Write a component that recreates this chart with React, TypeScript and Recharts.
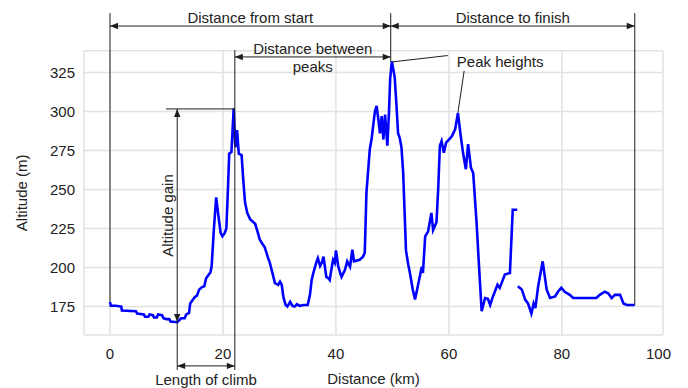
import React from 'react';
import { LineChart, Line, XAxis, YAxis, CartesianGrid, ReferenceLine } from 'recharts';

// elevation profile
const DISTANCE_KM = [
  0.0, 0.15, 1.0, 2.0, 2.1, 4.6, 4.8, 6.0, 6.2, 6.8, 7.0, 7.6, 7.8, 8.3, 8.5, 9.2, 9.5, 10.0, 10.5, 10.7,
  11.9, 12.2, 12.6, 13.2, 13.5, 14.0, 14.2, 14.6, 15.0, 15.4, 15.8, 16.3, 16.7, 17.0, 17.4, 17.8, 18.0, 18.4, 18.8, 19.2,
  19.6, 19.9, 20.3, 20.6, 20.9, 21.1, 21.5, 21.9, 22.2, 22.5, 22.8, 23.3, 23.6, 23.9, 24.3, 24.8, 25.7, 26.2, 26.5, 27.0,
  27.4, 28.0, 28.3, 28.8, 29.2, 29.8, 30.1, 30.4, 30.7, 31.1, 31.4, 31.9, 32.3, 32.7, 33.1, 33.6, 34.3, 35.0, 35.4, 35.7,
  36.0, 36.5, 36.8, 37.2, 37.5, 37.8, 38.3, 38.7, 38.9, 39.3, 39.5, 39.8, 40.0, 40.4, 40.8, 41.0, 41.6, 42.0, 42.5, 42.9,
  43.2, 44.2, 44.8, 45.1, 45.4, 45.7, 46.0, 46.3, 46.6, 46.9, 47.2, 47.5, 47.8, 48.1, 48.4, 48.7, 49.1, 49.4, 49.6, 49.9,
  50.2, 50.4, 50.7, 51.0, 51.3, 51.6, 51.9, 52.4, 52.8, 53.1, 53.6, 54.0, 54.6, 55.2, 55.4, 55.8, 56.3, 56.9, 57.2, 57.8,
  58.1, 58.4, 58.7, 59.1, 59.5, 60.0, 60.5, 61.1, 61.6, 62.1, 62.5, 63.0, 63.4, 63.9, 64.3, 64.9, 65.4, 65.8, 66.4, 66.9,
  67.3, 67.8, 68.6, 69.0, 69.9, 70.8, 71.3, 72.1, 72.15, 72.2, 72.9, 73.5, 74.0, 74.6, 75.0, 75.3, 75.8, 76.6, 77.3, 77.9,
  78.8, 79.3, 79.9, 80.5, 81.4, 82.0, 86.1, 86.7, 87.6, 88.2, 88.8, 89.4, 90.3, 90.9, 91.5, 92.9,
];
const ALTITUDE_M: (number | null)[] = [
  178, 175.5, 175.5, 175, 172.5, 172, 170.5, 170, 168.5, 168.5, 170, 169.5, 168, 168, 170, 169.5, 167.5, 167, 167, 165.5,
  165, 166, 167.5, 167.5, 170, 171, 177, 179, 181, 182, 186, 187.5, 188, 193, 195, 197, 201, 225, 245, 233,
  222, 220, 222, 225, 252, 273, 274, 302, 277, 288, 273, 272, 256, 242, 235, 231, 228, 222, 218, 215,
  213, 206, 203, 196, 190, 189, 191, 189, 181, 176, 175, 178, 175.5, 175, 176.5, 175.5, 176, 176, 182.5, 192,
  196.5, 203, 206, 201, 203, 207, 194, 193, 192, 201, 205, 203, 211, 201, 196, 194, 198.5, 204, 200.5, 211.5,
  204, 205, 207, 209.5, 248, 262, 276, 282, 291, 300, 303.5, 295, 286, 297, 282, 298, 278, 300, 321, 332,
  326, 322, 305, 286, 283, 277, 261, 211, 202, 196.5, 186, 179.5, 190, 200.5, 196.5, 220, 223, 235, 224, 229,
  250, 278, 281, 273.5, 280, 282, 284, 288.5, 299, 284, 273.5, 263, 279, 264, 260.5, 228.5, 196.5, 172, 180.5, 180,
  176, 181.5, 189, 187, 195.5, 196.5, 237, 237, null, 188, 186, 179.5, 177, 170.5, 177, 174, 188, 204, 186, 180.5,
  181.5, 184.5, 187, 184.5, 182.5, 180.5, 180.5, 182.5, 184.5, 183.5, 180.5, 182.5, 182.5, 177, 176, 176,
];
const X_TICKS = [0, 20, 40, 60, 80, 100];
const Y_TICKS = [175, 200, 225, 250, 275, 300, 325];
const X_DOMAIN: [number, number] = [-4.6, 97.9];
const Y_DOMAIN: [number, number] = [156.8, 338.9];

// annotation anchors (km, m)
const START_KM = 0;
const CLIMB_KM = 11.9;
const PEAK1_KM = 22.1;
const PEAK2_KM = 49.7;
const PEAK3_KM = 61.6;
const FINISH_KM = 92.9;
const START_ALT = 178;
const PEAK1_ALT = 301.6;
const PEAK2_ALT = 331.7;
const PEAK3_ALT = 299.3;
const LOW_ALT = 165.1;
const FINISH_ALT = 176;

const W = 680;
const H = 380;
const MARGIN = { top: 42.7, right: 25, bottom: 23, left: 4 };
const Y_AXIS_W = 72;
const X_AXIS_H = 30;
const PLOT = {
  left: MARGIN.left + Y_AXIS_W,
  top: MARGIN.top,
  width: W - MARGIN.left - Y_AXIS_W - MARGIN.right,
  height: H - MARGIN.top - MARGIN.bottom - X_AXIS_H,
};
const FONT = '"Liberation Sans", Arial, sans-serif';
const INK = '#1e1e1e';
const TEXT = '#222';

const data = DISTANCE_KM.map((km, i) => ({ km, alt: ALTITUDE_M[i] }));

const xPx = (v: number) => PLOT.left + ((v - X_DOMAIN[0]) / (X_DOMAIN[1] - X_DOMAIN[0])) * PLOT.width;
const yPx = (v: number) => PLOT.top + ((Y_DOMAIN[1] - v) / (Y_DOMAIN[1] - Y_DOMAIN[0])) * PLOT.height;

const gridX = [PLOT.left, ...X_TICKS.filter((t) => t < X_DOMAIN[1]).map(xPx), PLOT.left + PLOT.width];
const gridY = [PLOT.top, ...Y_TICKS.map(yPx), PLOT.top + PLOT.height];

const Head = ({ x, y, dx, dy }: { x: number; y: number; dx: number; dy: number }) => {
  const len = 8;
  const hw = 3.2;
  const bx = x - dx * len;
  const by = y - dy * len;
  return (
    <polygon
      points={`${x},${y} ${bx - dy * hw},${by + dx * hw} ${bx + dy * hw},${by - dx * hw}`}
      fill={INK}
    />
  );
};

type Label = { text: string; dx?: number; dy?: number; rotate?: boolean; anchor?: 'start' | 'middle' | 'end'; at?: 'mid' | 'end' };

// builds a ReferenceLine shape: plain or double-headed line plus text
const segShape = (heads: boolean, labels: Label[] = []) => (p: any) => {
  const { x1, y1, x2, y2 } = p;
  const len = Math.hypot(x2 - x1, y2 - y1) || 1;
  const ux = (x2 - x1) / len;
  const uy = (y2 - y1) / len;
  return (
    <g>
      <line x1={x1} y1={y1} x2={x2} y2={y2} stroke={INK} strokeWidth={1} />
      {heads && <Head x={x1} y={y1} dx={-ux} dy={-uy} />}
      {heads && <Head x={x2} y={y2} dx={ux} dy={uy} />}
      {labels.map((l, i) => {
        const bx = l.at === 'end' ? x2 : (x1 + x2) / 2;
        const by = l.at === 'end' ? y2 : (y1 + y2) / 2;
        const tx = bx + (l.dx || 0);
        const ty = by + (l.dy || 0);
        return (
          <text
            key={i}
            x={tx}
            y={ty}
            textAnchor={l.anchor || 'middle'}
            dominantBaseline="central"
            transform={l.rotate ? `rotate(-90, ${tx}, ${ty})` : undefined}
            fontFamily={FONT}
            fontSize={15}
            fill={TEXT}
          >
            {l.text}
          </text>
        );
      })}
    </g>
  );
};

const XTick = (p: any) => {
  const right = PLOT.left + PLOT.width;
  const over = p.x > right;
  return (
    <text
      x={over ? right + 8 : p.x}
      y={p.y}
      dy="0.71em"
      textAnchor={over ? 'end' : 'middle'}
      fontFamily={FONT}
      fontSize={15}
      fill={TEXT}
    >
      {p.payload.value}
    </text>
  );
};

const YTick = (p: any) => (
  <text x={p.x} y={p.y} dy="0.355em" textAnchor="end" fontFamily={FONT} fontSize={15} fill={TEXT}>
    {p.payload.value}
  </text>
);

const YLabel = (p: any) => {
  const cx = p.viewBox.x + 10;
  const cy = PLOT.top + PLOT.height / 2;
  return (
    <text
      x={cx}
      y={cy}
      transform={`rotate(-90, ${cx}, ${cy})`}
      textAnchor="middle"
      dominantBaseline="central"
      fontFamily={FONT}
      fontSize={15}
      fill={TEXT}
    >
      Altitude (m)
    </text>
  );
};

const TOP_LINE = 363;
const TOP_ARROW = 354.7;
const MID_ARROW = 334.9;
const MID_LINE = 339.3;
const LOW_ARROW = 137;
const LOW_LINE = 134.4;

export default function App() {
  return (
    <div style={{ width: W, height: H }}>
      <LineChart width={W} height={H} data={data} margin={MARGIN}>
        <CartesianGrid
          stroke="#e2e2e2"
          strokeWidth={1.5}
          horizontalPoints={gridY}
          verticalPoints={gridX}
        />
        <XAxis
          dataKey="km"
          type="number"
          domain={X_DOMAIN}
          ticks={X_TICKS}
          allowDataOverflow
          interval={0}
          height={X_AXIS_H}
          axisLine={false}
          tickLine={false}
          tickSize={0}
          tickMargin={13}
          tick={<XTick />}
          label={{ value: 'Distance (km)', position: 'bottom', offset: 8, fontFamily: FONT, fontSize: 15, fill: TEXT }}
        />
        <YAxis
          type="number"
          domain={Y_DOMAIN}
          ticks={Y_TICKS}
          allowDataOverflow
          interval={0}
          width={Y_AXIS_W}
          axisLine={false}
          tickLine={false}
          tickSize={0}
          tickMargin={9}
          tick={<YTick />}
          label={{ content: <YLabel /> }}
        />
        <Line
          type="linear"
          dataKey="alt"
          stroke="#0000ff"
          strokeWidth={2.6}
          dot={false}
          connectNulls={false}
          isAnimationActive={false}
        />

        {/* guide lines */}
        <ReferenceLine ifOverflow="visible" segment={[{ x: START_KM, y: TOP_LINE }, { x: START_KM, y: START_ALT }]} shape={segShape(false)} />
        <ReferenceLine ifOverflow="visible" segment={[{ x: PEAK2_KM, y: TOP_LINE }, { x: PEAK2_KM, y: PEAK2_ALT }]} shape={segShape(false)} />
        <ReferenceLine ifOverflow="visible" segment={[{ x: FINISH_KM, y: TOP_LINE }, { x: FINISH_KM, y: FINISH_ALT }]} shape={segShape(false)} />
        <ReferenceLine ifOverflow="visible" segment={[{ x: PEAK1_KM, y: MID_LINE }, { x: PEAK1_KM, y: LOW_LINE }]} shape={segShape(false)} />
        <ReferenceLine ifOverflow="visible" segment={[{ x: CLIMB_KM, y: LOW_ALT }, { x: CLIMB_KM, y: LOW_LINE }]} shape={segShape(false)} />
        <ReferenceLine ifOverflow="visible" segment={[{ x: 9.9, y: PEAK1_ALT }, { x: PEAK1_KM, y: PEAK1_ALT }]} shape={segShape(false)} />

        {/* dimension arrows */}
        <ReferenceLine
          ifOverflow="visible"
          segment={[{ x: START_KM, y: TOP_ARROW }, { x: PEAK2_KM, y: TOP_ARROW }]}
          shape={segShape(true, [{ text: 'Distance from start', dy: -9 }])}
        />
        <ReferenceLine
          ifOverflow="visible"
          segment={[{ x: PEAK2_KM, y: TOP_ARROW }, { x: FINISH_KM, y: TOP_ARROW }]}
          shape={segShape(true, [{ text: 'Distance to finish', dy: -9 }])}
        />
        <ReferenceLine
          ifOverflow="visible"
          segment={[{ x: PEAK1_KM, y: MID_ARROW }, { x: PEAK2_KM, y: MID_ARROW }]}
          shape={segShape(true, [
            { text: 'Distance between', dy: -8 },
            { text: 'peaks', dy: 10 },
          ])}
        />
        <ReferenceLine
          ifOverflow="visible"
          segment={[{ x: CLIMB_KM, y: LOW_ARROW }, { x: PEAK1_KM, y: LOW_ARROW }]}
          shape={segShape(true, [{ text: 'Length of climb', dy: 14 }])}
        />
        <ReferenceLine
          ifOverflow="visible"
          segment={[{ x: CLIMB_KM, y: PEAK1_ALT }, { x: CLIMB_KM, y: LOW_ALT }]}
          shape={segShape(true, [{ text: 'Altitude gain', dx: -10, rotate: true }])}
        />

        {/* peak height leaders */}
        <ReferenceLine
          ifOverflow="visible"
          segment={[{ x: 49.9, y: PEAK2_ALT }, { x: 59.8, y: 335.8 }]}
          shape={segShape(false, [{ text: 'Peak heights', at: 'end', dx: 9, dy: 6, anchor: 'start' }])}
        />
        <ReferenceLine
          ifOverflow="visible"
          segment={[{ x: 62.7, y: 326 }, { x: PEAK3_KM, y: PEAK3_ALT }]}
          shape={segShape(false)}
        />
      </LineChart>
    </div>
  );
}
